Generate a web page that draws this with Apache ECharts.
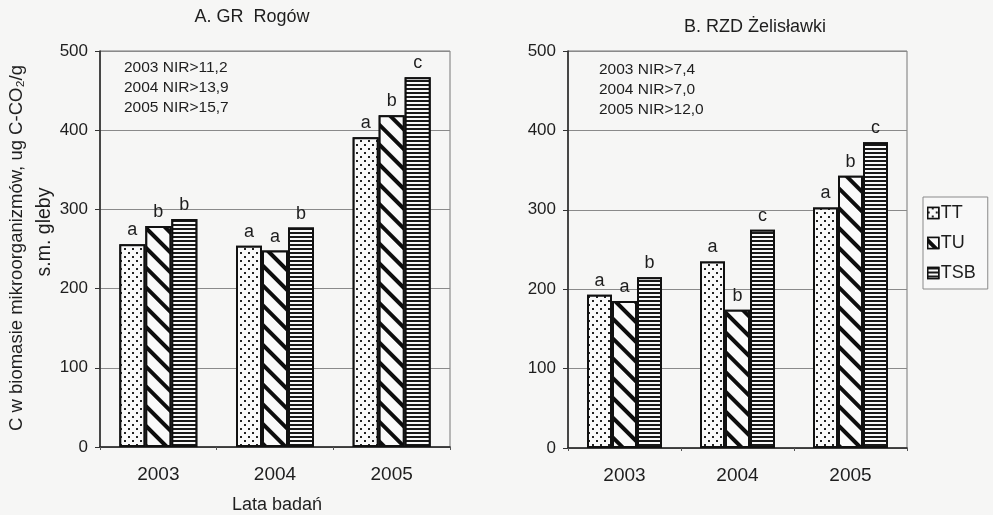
<!DOCTYPE html>
<html>
<head>
<meta charset="utf-8">
<script src="https://cdn.jsdelivr.net/npm/echarts@6/dist/echarts.min.js"></script>
<style>
  html, body { margin: 0; padding: 0; background: #f6f6f5; }
  #chart { width: 993px; height: 515px; }
</style>
</head>
<body>
<div id="chart"></div>
<script>
// Years of study (category axis)
const years = ['2003', '2004', '2005'];
const seriesNames = ['TT', 'TU', 'TSB'];
const yTicks = { min: 0, max: 500, interval: 100 };

// A. GR Rogów — microbial biomass C, ug C-CO2/g dry soil
const rogowTT = [256, 254, 391];
const rogowTU = [279, 248, 419];
const rogowTSB = [288, 277, 467];
const rogowTTLetters = ['a', 'a', 'a'];
const rogowTULetters = ['b', 'a', 'b'];
const rogowTSBLetters = ['b', 'b', 'c'];
const rogowNIR = ['2003 NIR>11,2', '2004 NIR>13,9', '2005 NIR>15,7'];

// B. RZD Żelisławki
const zelTT = [193, 235, 303];
const zelTU = [185, 174, 343];
const zelTSB = [215, 275, 385];
const zelTTLetters = ['a', 'a', 'a'];
const zelTULetters = ['a', 'b', 'b'];
const zelTSBLetters = ['b', 'c', 'c'];
const zelNIR = ['2003 NIR>7,4', '2004 NIR>7,0', '2005 NIR>12,0'];

const titleA = 'A. GR  Rogów';
const titleB = 'B. RZD Żelisławki';
const yName1 = 'C w biomasie mikroorganizmów, ug C-CO₂/g';
const yName2 = 's.m. gleby';
const xName = 'Lata badań';

const FONT = '"Liberation Sans", Arial, sans-serif';
const INK = '#1e1e1e';

// Fill patterns: dots, backslash hatch, horizontal lines
const decals = {
  TT: {
    symbol: 'rect', symbolSize: 1, color: '#222', backgroundColor: '#fafafa',
    dashArrayX: [[2, 6], [0, 4, 2, 2]], dashArrayY: [2, 2], rotation: 0
  },
  TU: {
    symbol: 'rect', symbolSize: 1, color: '#0d0d0d', backgroundColor: '#fafafa',
    dashArrayX: [1, 0], dashArrayY: [4, 10], rotation: Math.PI / 4
  },
  TSB: {
    symbol: 'rect', symbolSize: 1, color: '#1a1a1a', backgroundColor: '#fafafa',
    dashArrayX: [1, 0], dashArrayY: [2, 2], rotation: 0
  }
};

function barSeries(name, values, letters, axisIndex, width) {
  return {
    name: name,
    type: 'bar',
    xAxisIndex: axisIndex,
    yAxisIndex: axisIndex,
    data: values,
    barWidth: width,
    barGap: '0%',
    itemStyle: {
      color: '#fafafa',
      borderColor: '#111',
      borderWidth: 2,
      decal: decals[name]
    },
    label: {
      show: true,
      position: 'top',
      distance: 5,
      fontFamily: FONT,
      fontSize: 18,
      color: INK,
      formatter: p => letters[p.dataIndex]
    },
    emphasis: { disabled: true }
  };
}

function xAxis(gridIndex) {
  return {
    type: 'category',
    gridIndex: gridIndex,
    data: years,
    axisLine: { lineStyle: { color: '#222', width: 1.5 } },
    axisTick: { show: true, length: 3, lineStyle: { color: '#555' } },
    axisLabel: { fontFamily: FONT, fontSize: 19, color: INK, margin: 18 }
  };
}

function yAxis(gridIndex) {
  return {
    type: 'value',
    gridIndex: gridIndex,
    min: yTicks.min,
    max: yTicks.max,
    interval: yTicks.interval,
    axisLine: { show: true, lineStyle: { color: '#222', width: 1.5 } },
    axisTick: { show: true, length: 5, lineStyle: { color: '#333' } },
    axisLabel: { fontFamily: FONT, fontSize: 17, color: INK, margin: 12 },
    splitLine: { show: true, lineStyle: { color: '#8a8a8a', width: 1 } }
  };
}

function textEl(text, x, y, size, align, rotation) {
  return {
    type: 'text',
    x: x, y: y,
    rotation: rotation || 0,
    style: {
      text: text,
      fill: INK,
      font: size + 'px ' + FONT,
      textAlign: align,
      textVerticalAlign: 'middle'
    },
    silent: true
  };
}

const graphics = [];
graphics.push(textEl(titleA, 252, 17, 18, 'center'));
graphics.push(textEl(titleB, 755, 27, 18, 'center'));
rogowNIR.forEach((t, i) => graphics.push(textEl(t, 124, 68 + i * 20, 15.5, 'left')));
zelNIR.forEach((t, i) => graphics.push(textEl(t, 599, 70 + i * 20, 15.5, 'left')));
graphics.push(textEl(yName1, 17, 248, 18.5, 'center', Math.PI / 2));
graphics.push(textEl(yName2, 45, 232, 19.5, 'center', Math.PI / 2));
graphics.push(textEl(xName, 277, 505, 18, 'center'));

const chart = echarts.init(document.getElementById('chart'), null, { renderer: 'canvas' });
chart.setOption({
  animation: false,
  backgroundColor: '#f6f6f5',
  grid: [
    { left: 100, top: 51, width: 350, height: 396, show: true, borderColor: '#777', borderWidth: 1 },
    { left: 568, top: 51, width: 339, height: 397, show: true, borderColor: '#777', borderWidth: 1 }
  ],
  xAxis: [xAxis(0), xAxis(1)],
  yAxis: [yAxis(0), yAxis(1)],
  legend: {
    orient: 'vertical',
    left: 923, top: 197,
    padding: [7, 12, 7, 4],
    itemGap: 12,
    itemWidth: 11, itemHeight: 11,
    icon: 'rect',
    borderColor: '#8a8a8a', borderWidth: 1,
    backgroundColor: '#f8f8f8',
    textStyle: { fontFamily: FONT, fontSize: 18, color: INK, padding: [0, 0, 0, -3] },
    itemStyle: { borderColor: '#111', borderWidth: 1.5 },
    data: seriesNames
  },
  series: [
    barSeries('TT', rogowTT, rogowTTLetters, 0, 26),
    barSeries('TU', rogowTU, rogowTULetters, 0, 26),
    barSeries('TSB', rogowTSB, rogowTSBLetters, 0, 26),
    barSeries('TT', zelTT, zelTTLetters, 1, 25),
    barSeries('TU', zelTU, zelTULetters, 1, 25),
    barSeries('TSB', zelTSB, zelTSBLetters, 1, 25)
  ],
  graphic: graphics
});
</script>
</body>
</html>
